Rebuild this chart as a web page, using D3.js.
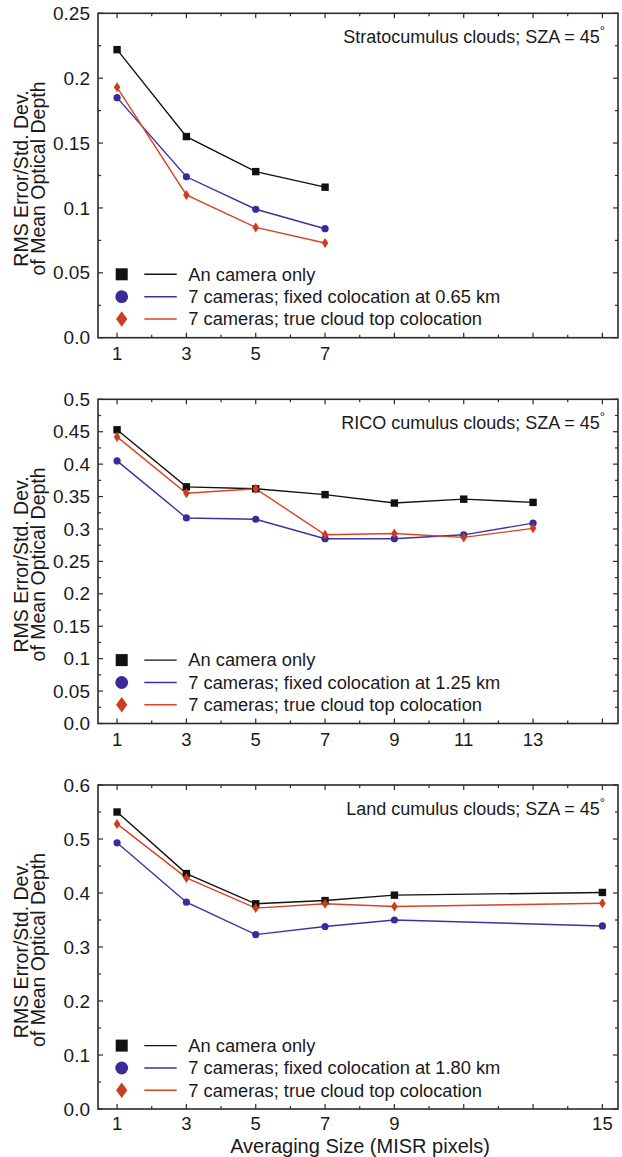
<!DOCTYPE html>
<html>
<head>
<meta charset="utf-8">
<script src="https://cdn.jsdelivr.net/npm/d3@7"></script>
<style>
  html, body { margin: 0; padding: 0; background: #ffffff; }
  svg { display: block; font-family: "Liberation Sans", Arial, Helvetica, sans-serif; }
</style>
</head>
<body>
<svg id="chart" width="622" height="1157"></svg>
<script>
// ---------------- DATA ----------------
const seriesNames = ["An camera only", "7 cameras; fixed colocation at", "7 cameras; true cloud top colocation"];

const p1Title = "Stratocumulus clouds; SZA = 45";
const p1Sizes = [1, 3, 5, 7];
const p1Camera = [0.222, 0.155, 0.128, 0.116];
const p1Fixed  = [0.185, 0.124, 0.099, 0.084];
const p1True   = [0.193, 0.110, 0.085, 0.073];
const p1FixedKm = "0.65 km";
const p1YTicks = [0, 0.05, 0.1, 0.15, 0.2, 0.25];
const p1YLabels = ["0.0", "0.05", "0.1", "0.15", "0.2", "0.25"];
const p1XLabels = [1, 3, 5, 7];

const p2Title = "RICO cumulus clouds; SZA = 45";
const p2Sizes = [1, 3, 5, 7, 9, 11, 13];
const p2Camera = [0.453, 0.365, 0.362, 0.353, 0.340, 0.346, 0.341];
const p2Fixed  = [0.405, 0.317, 0.315, 0.285, 0.285, 0.291, 0.309];
const p2True   = [0.442, 0.355, 0.362, 0.291, 0.293, 0.287, 0.301];
const p2FixedKm = "1.25 km";
const p2YTicks = [0, 0.05, 0.1, 0.15, 0.2, 0.25, 0.3, 0.35, 0.4, 0.45, 0.5];
const p2YLabels = ["0.0", "0.05", "0.1", "0.15", "0.2", "0.25", "0.3", "0.35", "0.4", "0.45", "0.5"];
const p2XLabels = [1, 3, 5, 7, 9, 11, 13];

const p3Title = "Land cumulus clouds; SZA = 45";
const p3Sizes = [1, 3, 5, 7, 9, 15];
const p3Camera = [0.550, 0.436, 0.380, 0.386, 0.396, 0.401];
const p3Fixed  = [0.493, 0.383, 0.323, 0.338, 0.350, 0.339];
const p3True   = [0.528, 0.428, 0.372, 0.380, 0.375, 0.381];
const p3FixedKm = "1.80 km";
const p3YTicks = [0, 0.1, 0.2, 0.3, 0.4, 0.5, 0.6];
const p3YLabels = ["0.0", "0.1", "0.2", "0.3", "0.4", "0.5", "0.6"];
const p3XLabels = [1, 3, 5, 7, 9, 15];

const xMinorTicks = d3.range(1, 16, 1);
const xDomain = [0.45, 15.45];
const yLabelLines = ["RMS Error/Std. Dev.", "of Mean Optical Depth"];
const xAxisTitle = "Averaging Size (MISR pixels)";

// ---------------- STYLE ----------------
const COL = { camera: "#111111", fixed: "#3b31a3", fixedMk: "#3a2c98", truth: "#d8431f", truthMk: "#cc3d1b" };
const L = 98, R = 618;
const panels = [
  { top: 13.3, bottom: 337.7, yMax: 0.25, minorStep: 0.025, xlabOff: 22.5, title: p1Title, sizes: p1Sizes, cam: p1Camera, fix: p1Fixed, tru: p1True, km: p1FixedKm, yTicks: p1YTicks, yLabels: p1YLabels, xLabels: p1XLabels },
  { top: 399.3, bottom: 723.5, yMax: 0.5, minorStep: 0.025, xlabOff: 22.5, title: p2Title, sizes: p2Sizes, cam: p2Camera, fix: p2Fixed, tru: p2True, km: p2FixedKm, yTicks: p2YTicks, yLabels: p2YLabels, xLabels: p2XLabels },
  { top: 785, bottom: 1109, yMax: 0.6, minorStep: 0.05, xlabOff: 21, title: p3Title, sizes: p3Sizes, cam: p3Camera, fix: p3Fixed, tru: p3True, km: p3FixedKm, yTicks: p3YTicks, yLabels: p3YLabels, xLabels: p3XLabels }
];

const svg = d3.select("#chart");
svg.append("rect").attr("width", 622).attr("height", 1157).attr("fill", "#ffffff");

const x = d3.scaleLinear().domain(xDomain).range([L, R]);

function diamondPath(w, h) {
  return `M0,${-h}L${w},0L0,${h}L${-w},0Z`;
}

panels.forEach((p, pi) => {
  const y = d3.scaleLinear().domain([0, p.yMax]).range([p.bottom, p.top]);
  const g = svg.append("g");
  const frameCol = "#2a2a2a";

  // minor / major y ticks (both sides)
  const nMinor = Math.round(p.yMax / p.minorStep);
  const yMinor = d3.range(0, nMinor + 1).map(i => i * p.minorStep);
  const majorSet = new Set(p.yTicks.map(v => v.toFixed(3)));
  yMinor.forEach(v => {
    const isMajor = majorSet.has(v.toFixed(3));
    const len = isMajor ? 5 : 3;
    const yy = y(v);
    g.append("line").attr("x1", L).attr("x2", L + len).attr("y1", yy).attr("y2", yy)
      .attr("stroke", frameCol).attr("stroke-width", 1.2);
    g.append("line").attr("x1", R).attr("x2", R - len).attr("y1", yy).attr("y2", yy)
      .attr("stroke", frameCol).attr("stroke-width", 1.2);
  });
  // x ticks (bottom & top)
  xMinorTicks.forEach(v => {
    const isMajor = v % 2 === 1;
    const len = isMajor ? 5 : 3;
    const xx = x(v);
    g.append("line").attr("x1", xx).attr("x2", xx).attr("y1", p.bottom).attr("y2", p.bottom - len)
      .attr("stroke", frameCol).attr("stroke-width", 1.2);
    g.append("line").attr("x1", xx).attr("x2", xx).attr("y1", p.top).attr("y2", p.top + len)
      .attr("stroke", frameCol).attr("stroke-width", 1.2);
  });

  // frame
  g.append("rect").attr("x", L).attr("y", p.top).attr("width", R - L).attr("height", p.bottom - p.top)
    .attr("fill", "none").attr("stroke", frameCol).attr("stroke-width", 1.6);

  // y tick labels
  p.yTicks.forEach((v, i) => {
    g.append("text").attr("x", L - 8).attr("y", y(v) + 6.6)
      .attr("text-anchor", "end").attr("font-size", 19).attr("fill", "#1a1a1a")
      .text(p.yLabels[i]);
  });
  // x tick labels
  p.xLabels.forEach(v => {
    g.append("text").attr("x", x(v)).attr("y", p.bottom + p.xlabOff)
      .attr("text-anchor", "middle").attr("font-size", 18.5).attr("fill", "#1a1a1a")
      .text(v);
  });

  // y axis label
  const cy = (p.top + p.bottom) / 2 + 3;
  yLabelLines.forEach((t, i) => {
    g.append("text").attr("transform", `translate(${i === 0 ? 27.5 : 45},${cy}) rotate(-90)`)
      .attr("text-anchor", "middle").attr("font-size", 19.5).attr("fill", "#1a1a1a")
      .text(t);
  });

  // title
  const tt = g.append("text").attr("x", 605).attr("y", p.top + 29.5)
    .attr("text-anchor", "end").attr("font-size", 18).attr("fill", "#1a1a1a");
  tt.append("tspan").text(p.title);
  tt.append("tspan").attr("dy", -8).attr("font-size", 13).text("°");

  // series
  const series = [
    { vals: p.cam, line: COL.camera, mk: COL.camera, type: "square" },
    { vals: p.fix, line: COL.fixed, mk: COL.fixedMk, type: "circle" },
    { vals: p.tru, line: COL.truth, mk: COL.truthMk, type: "diamond" }
  ];
  const lineGen = d3.line().x(d => x(d[0])).y(d => y(d[1]));
  series.forEach(s => {
    const pts = p.sizes.map((sz, i) => [sz, s.vals[i]]);
    g.append("path").attr("d", lineGen(pts)).attr("fill", "none")
      .attr("stroke", s.line).attr("stroke-width", 1.4);
  });
  // markers drawn afterwards
  series.forEach(s => {
    const pts = p.sizes.map((sz, i) => [sz, s.vals[i]]);
    pts.forEach(d => {
      const cx = x(d[0]), cyy = y(d[1]);
      if (s.type === "square") {
        g.append("rect").attr("x", cx - 3.7).attr("y", cyy - 3.7).attr("width", 7.4).attr("height", 7.4).attr("fill", s.mk);
      } else if (s.type === "circle") {
        g.append("circle").attr("cx", cx).attr("cy", cyy).attr("r", 3.6).attr("fill", s.mk);
      } else {
        g.append("path").attr("transform", `translate(${cx},${cyy})`).attr("d", diamondPath(3.3, 5)).attr("fill", s.mk);
      }
    });
  });

  // legend
  const rows = [p.bottom - 63.4, p.bottom - 41, p.bottom - 18.7];
  const legTexts = [seriesNames[0], `${seriesNames[1]} ${p.km}`, seriesNames[2]];
  series.forEach((s, i) => {
    const ry = rows[i];
    const mx = 121.7;
    if (s.type === "square") {
      g.append("rect").attr("x", mx - 6).attr("y", ry - 6).attr("width", 12).attr("height", 12).attr("fill", s.mk);
    } else if (s.type === "circle") {
      g.append("circle").attr("cx", mx).attr("cy", ry).attr("r", 6.4).attr("fill", s.mk);
    } else {
      g.append("path").attr("transform", `translate(${mx},${ry})`).attr("d", diamondPath(5.6, 7.8)).attr("fill", s.mk);
    }
    g.append("line").attr("x1", 144.3).attr("x2", 176.7).attr("y1", ry).attr("y2", ry)
      .attr("stroke", s.line).attr("stroke-width", 1.4);
    g.append("text").attr("x", 188.3).attr("y", ry + 6.3).attr("font-size", 18.3).attr("fill", "#1a1a1a")
      .text(legTexts[i]);
  });

  if (pi === 2) {
    g.append("text").attr("x", (L + R) / 2 + 2).attr("y", 1153)
      .attr("text-anchor", "middle").attr("font-size", 20).attr("fill", "#1a1a1a")
      .text(xAxisTitle);
  }
});
</script>
</body>
</html>
